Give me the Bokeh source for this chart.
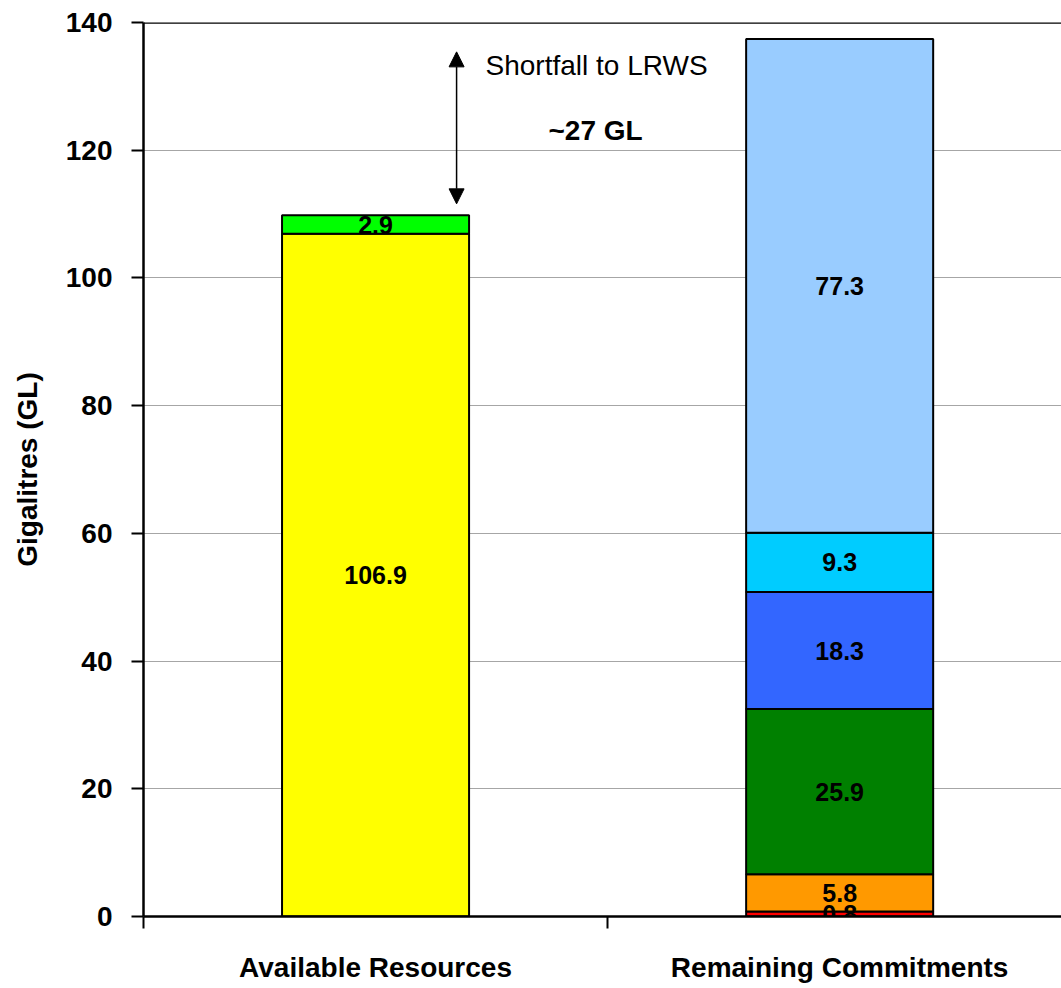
from bokeh.plotting import figure
from bokeh.models import Range1d, FixedTicker, Span, Arrow, NormalHead, ColumnDataSource, Label
from bokeh.core.properties import value
from bokeh.embed import file_html
from bokeh.resources import INLINE

categories = ["Available Resources", "Remaining Commitments"]
available_values = [106.9, 2.9]
available_colors = ["#FFFF00", "#00FF00"]
commitment_values = [0.8, 5.8, 25.9, 18.3, 9.3, 77.3]
commitment_colors = ["#FF0000", "#FF9900", "#008000", "#3366FF", "#00CCFF", "#99CCFF"]
y_ticks = [0, 20, 40, 60, 80, 100, 120, 140]
y_label = "Gigalitres (GL)"
shortfall_text = "Shortfall to LRWS"
shortfall_value = "~27 GL"

FONT = "Liberation Sans"

# build segments
xs, bottoms, tops, colors, mids, labels = [], [], [], [], [], []
for i, (vals, cols) in enumerate([(available_values, available_colors),
                                  (commitment_values, commitment_colors)]):
    b = 0.0
    for v, c in zip(vals, cols):
        xs.append(i + 0.5)
        bottoms.append(b)
        tops.append(b + v)
        colors.append(c)
        mids.append(b + v / 2)
        labels.append(f"{v:.1f}")
        b += v
src = ColumnDataSource(dict(x=xs, bottom=bottoms, top=tops, color=colors, mid=mids, label=labels))

p = figure(width=1061, height=988, output_backend="svg", toolbar_location=None,
           x_range=Range1d(0, 1.978), y_range=Range1d(0, 140),
           min_border_left=143, min_border_right=0, min_border_top=22, min_border_bottom=72)
p.outline_line_color = None
p.background_fill_color = "white"

p.xgrid.visible = False
p.ygrid.ticker = FixedTicker(ticks=y_ticks[:-1])
p.ygrid.grid_line_color = "#A6A6A6"
p.ygrid.grid_line_width = 1

p.add_layout(Span(location=140, dimension="width", line_color="black", line_width=2.5))

p.vbar(x="x", bottom="bottom", top="top", width=0.403, fill_color="color",
       line_color="black", line_width=2, source=src)
p.text(x="x", y="mid", text="label", source=src, text_align="center", text_baseline="middle",
       text_font=value(FONT), text_font_style="bold", text_font_size="25px", text_color="black")

avail_total = sum(available_values)
commit_total = sum(commitment_values)
arrow_x = 0.6746
p.add_layout(Arrow(x_start=arrow_x, y_start=avail_total + 1.8, x_end=arrow_x, y_end=commit_total - 2.0,
                   line_color="black", line_width=1.5,
                   start=NormalHead(size=15, fill_color="black", line_color="black"),
                   end=NormalHead(size=15, fill_color="black", line_color="black")))
p.add_layout(Label(x=0.737, y=133.3, text=shortfall_text, text_baseline="alphabetic",
                   text_font=FONT, text_font_size="28px", text_color="black"))
p.add_layout(Label(x=0.974, y=123.1, text=shortfall_value, text_baseline="alphabetic", text_align="center",
                   text_font=FONT, text_font_style="bold", text_font_size="28px", text_color="black"))

# y axis
ya = p.yaxis[0]
ya.ticker = FixedTicker(ticks=y_ticks)
ya.axis_line_color = "black"
ya.axis_line_width = 2.5
ya.major_tick_out = 12
ya.major_tick_in = 0
ya.major_tick_line_width = 2
ya.minor_tick_line_color = None
ya.major_label_standoff = 19
ya.major_label_text_font = FONT
ya.major_label_text_font_style = "bold"
ya.major_label_text_font_size = "28px"
ya.major_label_text_color = "black"
ya.axis_label = y_label
ya.axis_label_text_font = FONT
ya.axis_label_text_font_style = "bold"
ya.axis_label_text_font_size = "28px"
ya.axis_label_text_color = "black"
ya.axis_label_standoff = 20

# x axis
xa = p.xaxis[0]
xa.ticker = FixedTicker(ticks=[0.5, 1.5], minor_ticks=[0, 1, 2])
xa.major_label_overrides = {0.5: categories[0], 1.5: categories[1]}
xa.axis_line_color = "black"
xa.axis_line_width = 2.5
xa.major_tick_line_color = None
xa.major_tick_out = 0
xa.major_tick_in = 0
xa.minor_tick_out = 12
xa.minor_tick_in = 0
xa.minor_tick_line_color = "black"
xa.minor_tick_line_width = 2
xa.major_label_standoff = 23
xa.major_label_text_font = FONT
xa.major_label_text_font_style = "bold"
xa.major_label_text_font_size = "28px"
xa.major_label_text_color = "black"

open("out.html", "w").write(file_html(p, INLINE))
